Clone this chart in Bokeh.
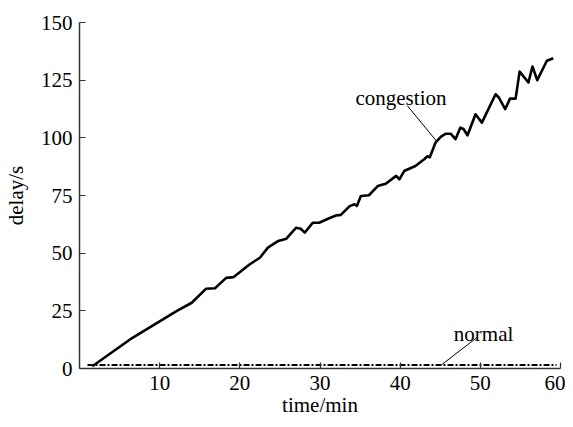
from bokeh.plotting import figure
from bokeh.embed import file_html
from bokeh.resources import INLINE
from bokeh.models import FixedTicker, Range1d
from bokeh.core.properties import value

# ---- data ----
congestion_x = [1.6, 6.3, 12.1, 14.0, 15.8, 16.9, 18.3, 19.2, 21.2, 22.5, 23.5, 24.8,
                25.8, 27.0, 27.6, 28.1, 29.1, 29.9, 31.0, 32.0, 32.6, 33.7, 34.3, 34.6,
                35.1, 36.1, 37.2, 38.2, 39.5, 39.9, 40.5, 41.9, 43.0, 43.4, 43.7, 44.4,
                45.1, 45.7, 46.3, 46.9, 47.5, 47.9, 48.4, 49.4, 50.2, 51.9, 52.3, 53.1,
                53.7, 54.4, 54.9, 56.0, 56.5, 57.1, 58.3, 59.1]
congestion_y = [1.0, 12.6, 24.9, 28.5, 34.6, 34.8, 39.3, 39.6, 45.1, 48.0, 52.4, 55.3,
                56.3, 61.0, 60.6, 58.9, 63.2, 63.2, 64.9, 66.3, 66.6, 70.4, 71.2, 70.5,
                74.8, 75.1, 79.1, 80.1, 83.5, 82.0, 85.6, 87.8, 90.7, 92.0, 91.6, 97.9,
                100.5, 101.8, 101.8, 99.4, 104.4, 103.8, 101.1, 110.2, 106.6, 118.9, 117.5, 112.4,
                117.0, 117.0, 128.7, 124.0, 130.9, 125.0, 133.4, 134.5]
normal_x = [1.0, 10.0, 20.0, 30.0, 40.0, 50.0, 59.5]
normal_y = [1.5, 1.5, 1.5, 1.5, 1.5, 1.5, 1.5]

x_ticks = [10, 20, 30, 40, 50, 60]
y_ticks = [0, 25, 50, 75, 100, 125, 150]
x_tick_labels = ["10", "20", "30", "40", "50", "60"]

labels_text = ["congestion", "normal"]
labels_x = [40.1, 50.4]
labels_y = [117.4, 14.8]
leader_x0 = [40.9, 49.6]
leader_y0 = [113.9, 13.5]
leader_x1 = [44.6, 45.2]
leader_y1 = [98.3, 1.7]

FONT = "Liberation Serif"

p = figure(width=565, height=419, output_backend="svg", toolbar_location=None,
           x_range=Range1d(0, 60), y_range=Range1d(0, 150),
           min_border_left=79, min_border_right=5, min_border_top=22,
           min_border_bottom=50)
p.outline_line_color = None
p.xgrid.grid_line_color = None
p.ygrid.grid_line_color = None
p.background_fill_color = "white"
p.border_fill_color = "white"

# axes
p.xaxis.ticker = FixedTicker(ticks=x_ticks)
p.yaxis.ticker = FixedTicker(ticks=y_ticks)
p.xaxis.major_label_overrides = {t: l for t, l in zip(x_ticks, x_tick_labels)}
for ax in (p.xaxis, p.yaxis):
    ax.axis_line_color = "#333333"
    ax.axis_line_width = 1.5
    ax.major_tick_line_color = "#333333"
    ax.major_tick_line_width = 1.2
    ax.major_tick_in = 6
    ax.major_tick_out = 0
    ax.minor_tick_line_color = None
    ax.major_label_text_font = FONT
    ax.major_label_text_font_size = "21px"
    ax.major_label_text_color = "black"
    ax.axis_label_text_font = FONT
    ax.axis_label_text_font_size = "21px"
    ax.axis_label_text_font_style = "normal"
    ax.axis_label_text_color = "black"
p.xaxis.axis_label = "time/min"
p.yaxis.axis_label = "delay/s"
p.xaxis.major_label_standoff = 7
p.xaxis.axis_label_standoff = 0
p.yaxis.major_label_standoff = 7
p.yaxis.axis_label_standoff = 10

# x=0 label (drawn at origin under the axis)
p.text(x=[0], y=[0], text=["0"], text_font=value(FONT), text_font_size="21px",
       text_align="center", text_baseline="top", y_offset=9, x_offset=-1,
       text_color="black")

# series
p.line(normal_x, normal_y, line_color="black", line_width=2, line_dash="6 2 2 2")
p.line(congestion_x, congestion_y, line_color="black", line_width=2.6,
       line_join="round")

# annotations
p.segment(x0=leader_x0, y0=leader_y0, x1=leader_x1, y1=leader_y1,
          line_color="black", line_width=1)
p.text(x=labels_x, y=labels_y, text=labels_text, text_font=value(FONT),
       text_font_size="21px", text_align="center", text_baseline="alphabetic",
       text_color="black")

open("out.html", "w").write(file_html(p, INLINE))
